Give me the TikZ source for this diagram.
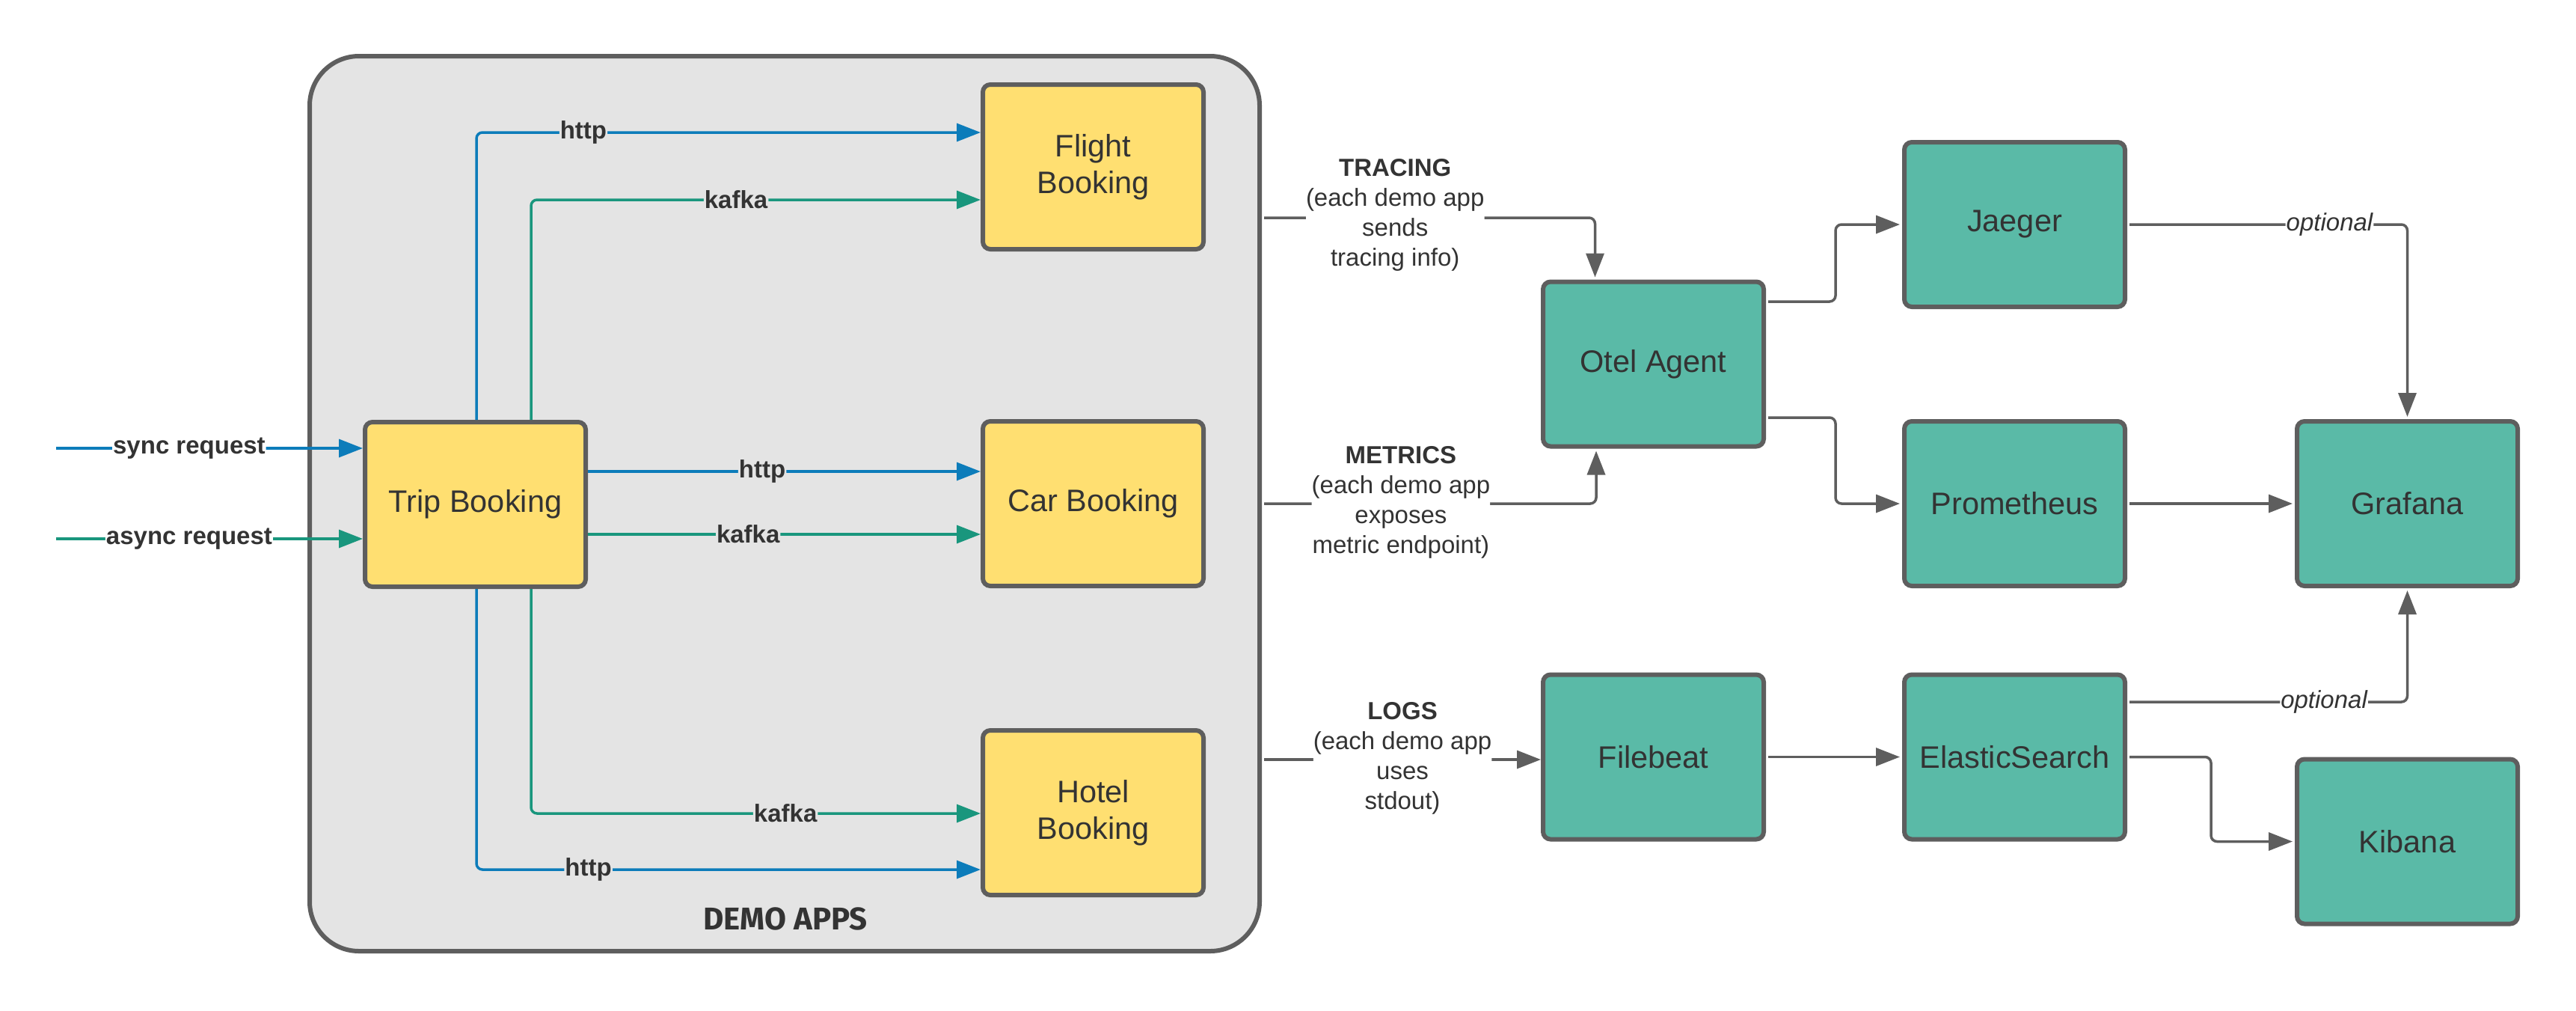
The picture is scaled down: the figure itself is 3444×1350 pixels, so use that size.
\documentclass[tikz,border=0pt]{standalone}
\usepackage{fontspec}
\setmainfont{Liberation Sans}
\newfontfamily\demofont{Fira Sans}
\usetikzlibrary{arrows.meta,calc}
\definecolor{bordc}{HTML}{5E5E5E}
\definecolor{demofill}{HTML}{E4E4E4}
\definecolor{appyellow}{HTML}{FFDF71}
\definecolor{svcteal}{HTML}{5ABAA7}
\definecolor{textc}{HTML}{333333}
\definecolor{bluec}{HTML}{0C7CBA}
\definecolor{greenc}{HTML}{19967D}
\definecolor{grayc}{HTML}{5E5E5E}
\tikzset{
  box/.style={draw=bordc, line width=6pt, rounded corners=10pt, minimum width=295pt, minimum height=220pt, text=textc, font=\fontsize{41.5}{49}\selectfont, align=center, inner sep=0pt},
  app/.style={box, fill=appyellow},
  svc/.style={box, fill=svcteal},
  conn/.style={line width=3.5pt, -{Triangle[length=32pt,width=24pt]}, rounded corners=8pt},
  lbl/.style={font=\bfseries\fontsize{33}{40}\selectfont, text=textc, inner xsep=1pt, inner ysep=0pt},
  ilbl/.style={lbl, fill=demofill},
  olbl/.style={lbl, fill=white},
  optlbl/.style={font=\itshape\fontsize{33}{40}\selectfont, text=textc, inner xsep=1pt, inner ysep=0pt, fill=white},
  sig/.style={font=\fontsize{33}{40}\selectfont, text=textc, align=center, fill=white, inner sep=0pt}
}
\begin{document}
\begin{tikzpicture}[x=1pt,y=-1pt]
\useasboundingbox[fill=white] (0,0) rectangle (3444,1350);
% container
\node[draw=bordc, fill=demofill, line width=6pt, rounded corners=66pt, minimum width=1270pt, minimum height=1196pt] (demo) at (1049,673) {};
\node[font=\demofont\bfseries\fontsize{42}{42}\selectfont, text=textc] (demolbl) at (1050,1228) {DEMO APPS};
% app nodes
\node[app] (trip) at (635.5,674) {Trip Booking};
\node[app] (flight) at (1461.5,223) {Flight\\Booking};
\node[app] (car) at (1461.5,673) {Car Booking};
\node[app] (hotel) at (1461.5,1086) {Hotel\\Booking};
% service nodes
\node[svc] (otel) at (2210.5,486.5) {Otel Agent};
\node[svc] (jaeger) at (2693.5,300) {Jaeger};
\node[svc] (prom) at (2693.5,673) {Prometheus};
\node[svc] (grafana) at (3218.5,673) {Grafana};
\node[svc] (filebeat) at (2210.5,1011.5) {Filebeat};
\node[svc] (es) at (2693.5,1011.5) {ElasticSearch};
\node[svc] (kibana) at (3218.5,1124.5) {Kibana};
% incoming requests
\coordinate (syncin) at (75,599);
\coordinate (asyncin) at (75,720);
\draw[conn, bluec] (syncin) -- node[pos=.434, olbl]{sync request} (syncin -| trip.west);
\draw[conn, greenc] (asyncin) -- node[pos=.434, olbl]{async request} (asyncin -| trip.west);
% trip -> flight
\draw[conn, bluec] ($(trip.north)+(1.5,0)$) |- node[pos=.606, ilbl]{http} ($(flight.west)+(0,-46)$);
\draw[conn, greenc] ($(trip.north)+(74.5,0)$) |- node[pos=.728, ilbl]{kafka} ($(flight.west)+(0,44)$);
% trip -> car
\draw[conn, bluec] ($(trip.east)+(0,-44)$) -- node[pos=.444, ilbl]{http} ($(car.west)+(0,-43)$);
\draw[conn, greenc] ($(trip.east)+(0,40)$) -- node[pos=.408, ilbl]{kafka} ($(car.west)+(0,41)$);
% trip -> hotel
\draw[conn, greenc] ($(trip.south)+(74.5,0)$) |- node[pos=.783, ilbl]{kafka} ($(hotel.west)+(0,1)$);
\draw[conn, bluec] ($(trip.south)+(1.5,0)$) |- node[pos=.611, ilbl]{http} ($(hotel.west)+(0,76)$);
% signals
\draw[conn, grayc] ($(demo.north east)+(3,219)$) -| node[pos=.198, sig, yshift=4pt]{\textbf{TRACING}\\(each demo app\\sends\\tracing info)} ($(otel.north)+(-78,-3)$);
\draw[conn, grayc] ($(demo.north east)+(3,601)$) -| node[pos=.206, sig, yshift=2pt]{\textbf{METRICS}\\(each demo app\\exposes\\metric endpoint)} ($(otel.south)+(-76.5,3)$);
\coordinate (logstart) at ($(demo.north east)+(3,943)$);
\draw[conn, grayc] (logstart) -- node[pos=.5, sig, yshift=2pt]{\textbf{LOGS}\\(each demo app\\uses\\stdout)} (logstart -| filebeat.west);
% services
\draw[conn, grayc] ($(otel.east)+(3,-83.5)$) -- ++(90,0) |- ($(jaeger.west)+(-3,0)$);
\draw[conn, grayc] ($(otel.east)+(3,71.5)$) -- ++(90,0) |- ($(prom.west)+(-3,0)$);
\draw[conn, grayc] ($(filebeat.east)+(3,0)$) -- ($(es.west)+(-3,0)$);
\draw[conn, grayc] ($(jaeger.east)+(3,0)$) -| node[pos=.36, optlbl]{optional} ($(grafana.north)+(0,-3)$);
\draw[conn, grayc] ($(prom.east)+(3,0)$) -- ($(grafana.west)+(-3,0)$);
\draw[conn, grayc] ($(es.east)+(3,-73.5)$) -| node[pos=.35, optlbl]{optional} ($(grafana.south)+(0,3)$);
\draw[conn, grayc] ($(es.east)+(3,0)$) -- ++(109,0) |- ($(kibana.west)+(-3,0)$);
\end{tikzpicture}
\end{document}
